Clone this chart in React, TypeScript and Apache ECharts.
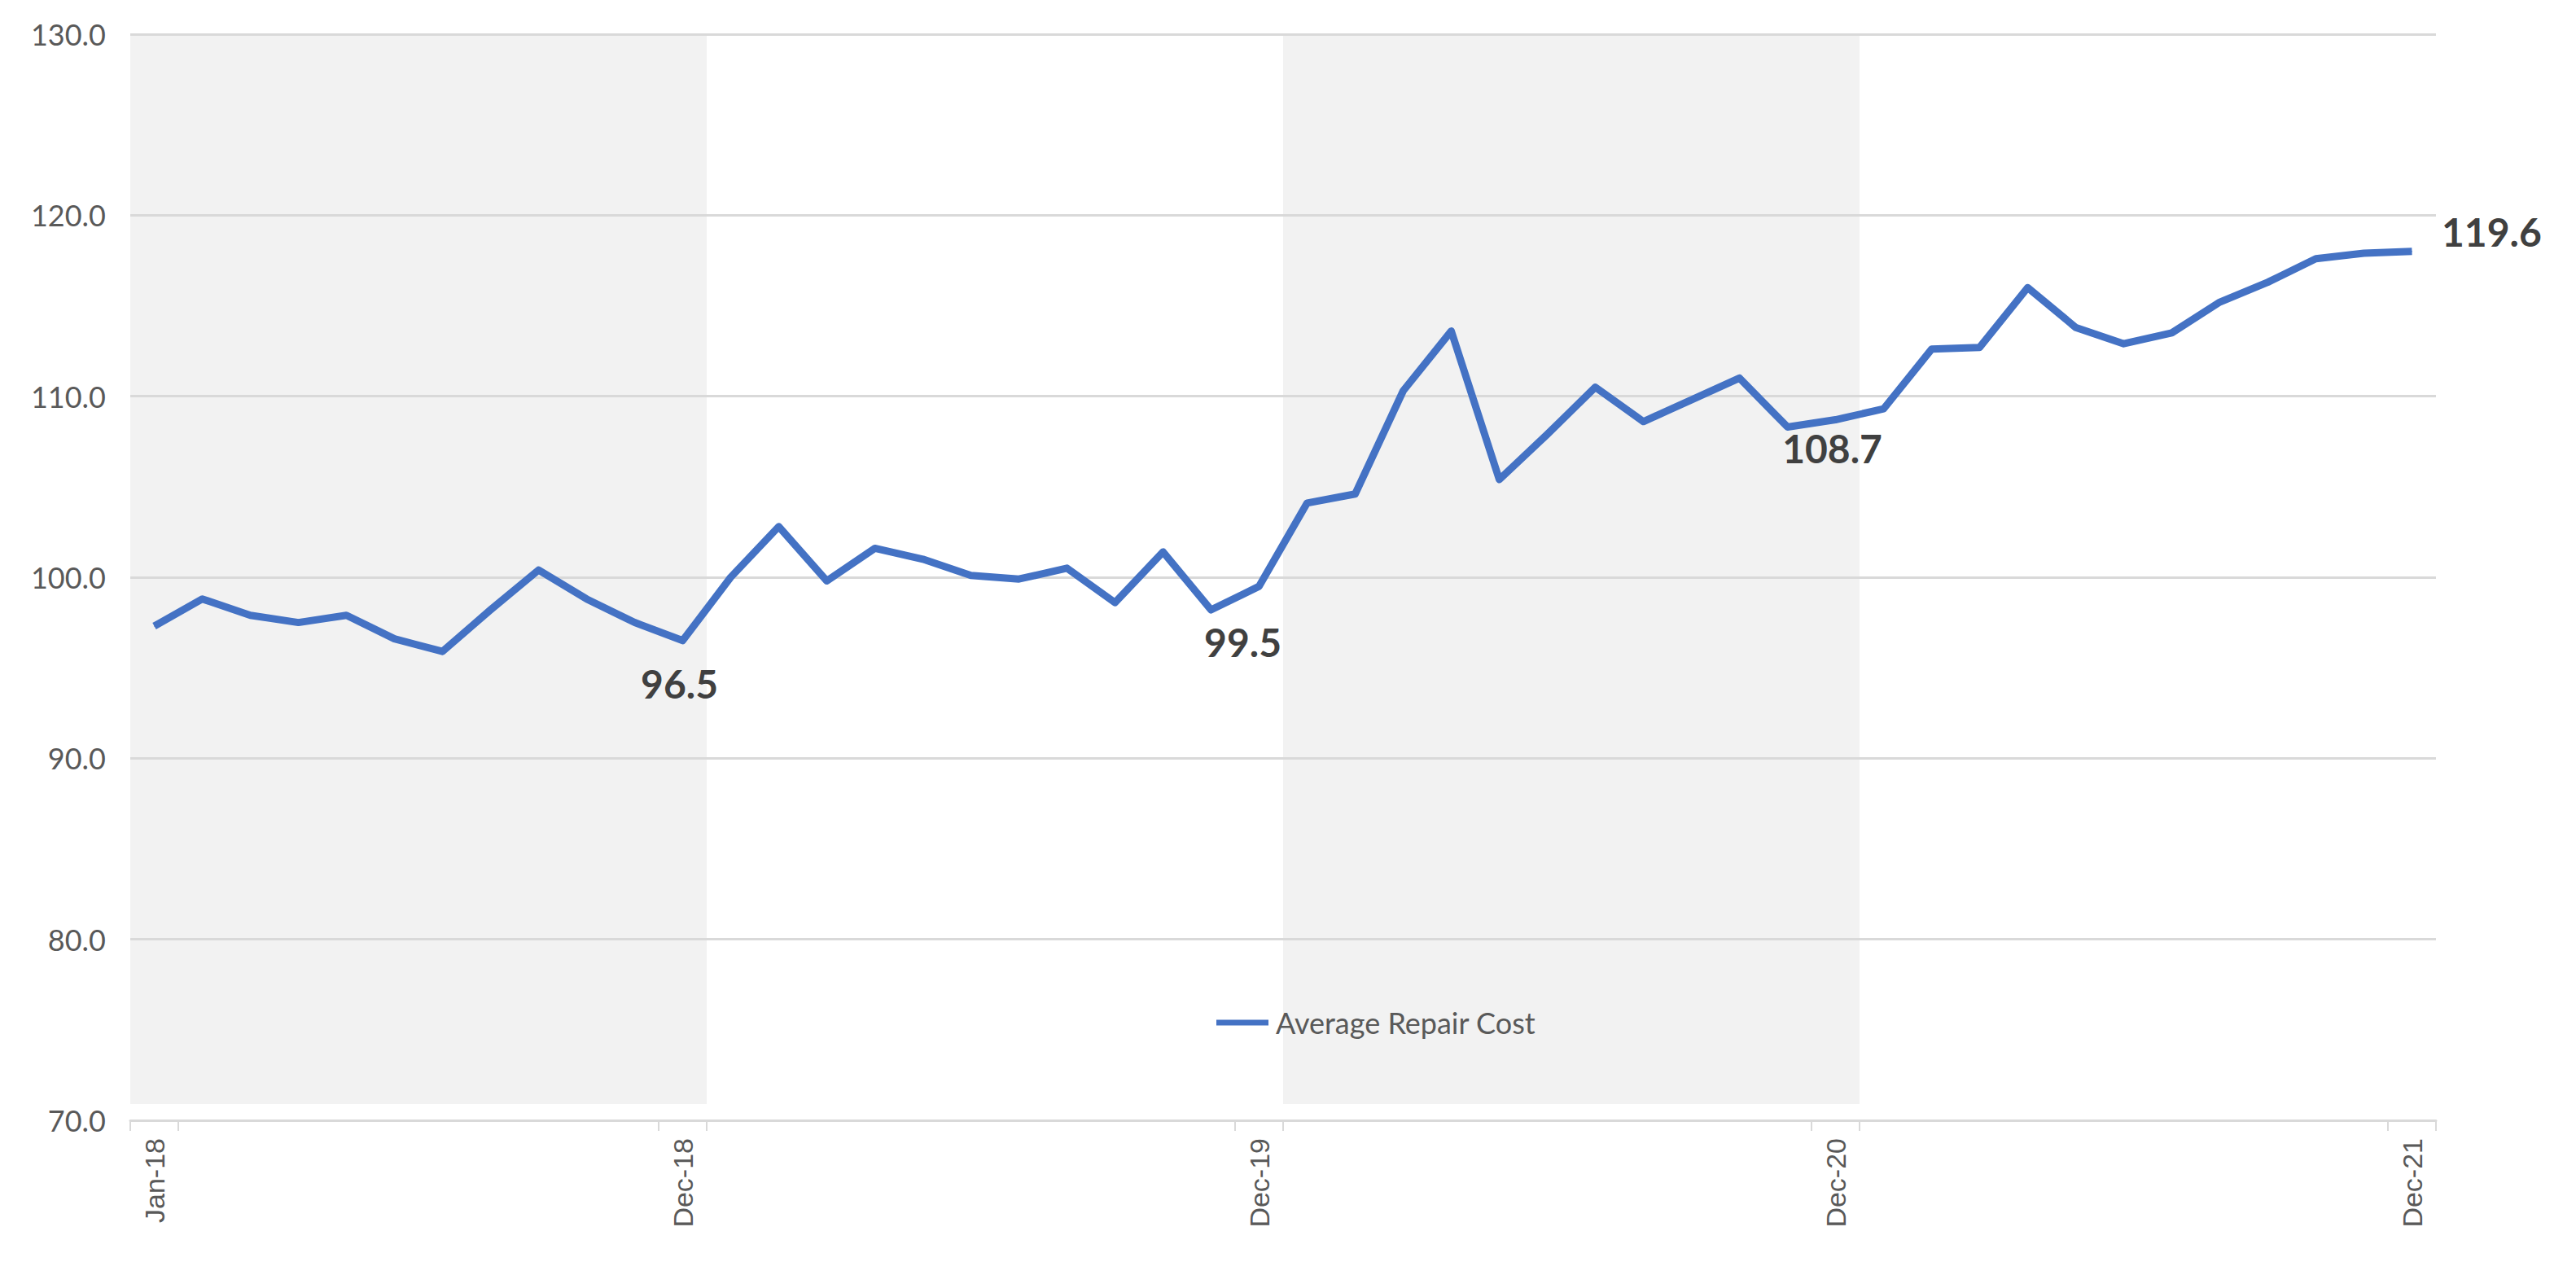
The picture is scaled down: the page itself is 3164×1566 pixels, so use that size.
import React, { useEffect, useRef } from "react";
import * as echarts from "echarts";

const categories = [
  "Jan-18", "Feb-18", "Mar-18", "Apr-18", "May-18", "Jun-18", "Jul-18", "Aug-18", "Sep-18", "Oct-18", "Nov-18", "Dec-18",
  "Jan-19", "Feb-19", "Mar-19", "Apr-19", "May-19", "Jun-19", "Jul-19", "Aug-19", "Sep-19", "Oct-19", "Nov-19", "Dec-19",
  "Jan-20", "Feb-20", "Mar-20", "Apr-20", "May-20", "Jun-20", "Jul-20", "Aug-20", "Sep-20", "Oct-20", "Nov-20", "Dec-20",
  "Jan-21", "Feb-21", "Mar-21", "Apr-21", "May-21", "Jun-21", "Jul-21", "Aug-21", "Sep-21", "Oct-21", "Nov-21", "Dec-21",
];

const repairCost = [
  97.3, 98.8, 97.9, 97.5, 97.9, 96.6, 95.9, 98.2, 100.4, 98.8, 97.5, 96.5,
  100.0, 102.8, 99.8, 101.6, 101.0, 100.1, 99.9, 100.5, 98.6, 101.4, 98.2, 99.5,
  104.1, 104.6, 110.3, 113.6, 105.4, 107.9, 110.5, 108.6, 109.8, 111.0, 108.3, 108.7,
  109.3, 112.6, 112.7, 116.0, 113.8, 112.9, 113.5, 115.2, 116.3, 117.6, 117.9, 118.0,
];

const labelMonths = ["Dec-18", "Dec-19", "Dec-20", "Dec-21"];
const labelTexts = ["96.5", "99.5", "108.7", "119.6"];

const axisLabelMonths = ["Jan-18", "Dec-18", "Dec-19", "Dec-20", "Dec-21"];

const shadedStart = ["Jan-18", "Jan-20"];
const shadedEnd = ["Dec-18", "Dec-20"];

const yMin = 70;
const yMax = 130;
const yStep = 10;
const shadeBottom = 70.9;

const seriesName = "Average Repair Cost";

export default function App() {
  const ref = useRef<HTMLDivElement>(null);

  useEffect(() => {
    if (!ref.current) return;
    const chart = echarts.init(ref.current, undefined, { renderer: "svg" });

    const labelIdx = labelMonths.map((m) => categories.indexOf(m));
    const axisLabelIdx = axisLabelMonths.map((m) => categories.indexOf(m));
    const tickIdx = new Set<number>();
    axisLabelIdx.forEach((i) => {
      tickIdx.add(i);
      if (i + 1 < categories.length) tickIdx.add(i + 1);
    });

    const labelStyle: Record<number, any> = {
      0: { position: "bottom", distance: 28, offset: [-4, 0] },
      1: { position: "bottom", distance: 44, offset: [-20, 0] },
      2: { position: "bottom", distance: 10, offset: [-4, 0] },
      3: { position: "right", distance: 36, offset: [0, -24] },
    };

    const lineData = repairCost.map((v, i) => {
      const k = labelIdx.indexOf(i);
      if (k < 0) return v;
      return {
        value: v,
        label: { show: true, formatter: labelTexts[k], ...labelStyle[k] },
      };
    });

    const bandData = shadedStart.map((s, i) => [
      categories.indexOf(s),
      categories.indexOf(shadedEnd[i]),
      yMax,
    ]);

    chart.setOption({
      animation: false,
      backgroundColor: "#ffffff",
      grid: { left: 160, right: 172, top: 42, bottom: 190, containLabel: false },
      legend: {
        data: [{ name: seriesName, icon: "rect" }],
        left: 1489,
        top: 1233,
        itemWidth: 64,
        itemHeight: 7,
        textStyle: { fontFamily: "Lato", fontSize: 36, color: "#595959", padding: [0, 0, 0, 4] },
      },
      xAxis: {
        type: "category",
        data: categories,
        boundaryGap: true,
        axisLine: { show: true, lineStyle: { color: "#d9d9d9", width: 3 } },
        axisTick: {
          show: true,
          interval: (i: number) => tickIdx.has(i),
          length: 13,
          lineStyle: { color: "#d9d9d9", width: 2 },
        },
        axisLabel: {
          interval: (i: number) => axisLabelIdx.includes(i),
          rotate: 90,
          margin: 22,
          fontFamily: "Liberation Sans",
          fontSize: 34,
          color: "#595959",
        },
        splitLine: { show: false },
      },
      yAxis: {
        type: "value",
        min: yMin,
        max: yMax,
        interval: yStep,
        axisLine: { show: false },
        axisTick: { show: false },
        axisLabel: {
          formatter: (v: number) => v.toFixed(1),
          fontFamily: "Lato",
          fontSize: 36,
          color: "#595959",
          margin: 30,
        },
        splitLine: { show: true, lineStyle: { color: "#d9d9d9", width: 3 } },
      },
      series: [
        {
          type: "custom",
          name: "bands",
          z: -1,
          silent: true,
          encode: { x: [0, 1], y: 2 },
          data: bandData,
          renderItem: (params: any, api: any) => {
            const top = api.coord([api.value(0), yMax]);
            const bottom = api.coord([api.value(1), shadeBottom]);
            const bw = api.size([1, 0])[0];
            return {
              type: "rect",
              shape: {
                x: top[0] - bw / 2,
                y: top[1],
                width: bottom[0] - top[0] + bw,
                height: bottom[1] - top[1],
              },
              style: { fill: "#f2f2f2" },
            };
          },
        },
        {
          type: "line",
          name: seriesName,
          data: lineData,
          symbol: "circle",
          symbolSize: 1,
          showSymbol: true,
          z: 3,
          color: "#4472C4",
          lineStyle: { color: "#4472C4", width: 9, join: "round" },
          itemStyle: { color: "#4472C4" },
          label: {
            show: false,
            fontFamily: "Lato",
            fontWeight: "bold",
            fontSize: 48,
            color: "#404040",
          },
        },
      ],
    });

    return () => chart.dispose();
  }, []);

  return (
    <div
      ref={ref}
      style={{ position: "absolute", left: 0, top: 0, width: "3164px", height: "1566px" }}
    />
  );
}
